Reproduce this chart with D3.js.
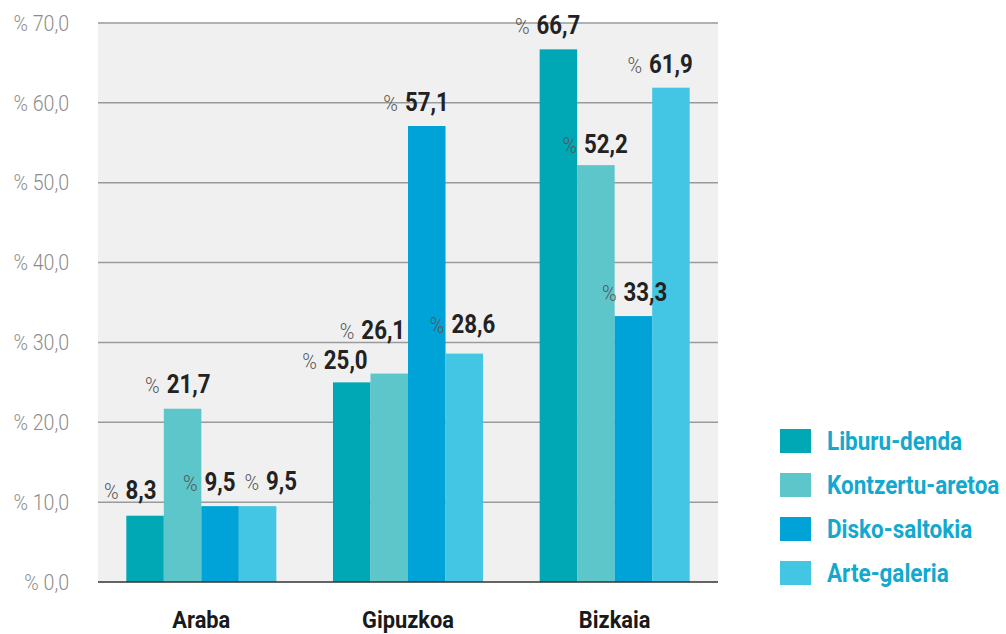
<!DOCTYPE html>
<html>
    <head>
        <meta charset="utf-8">
        <style>
            body { margin: 0; background: white; }
            svg { display: block; font-family: "Roboto", "Liberation Sans", sans-serif; }
            .plot_bg { fill: #f0f0f0; }
            .grid line { stroke: #9a9a9a; stroke-width: 1.5; }
            .baseline { stroke: #333; stroke-width: 1.5; }
            .tick_lbl { fill: #8c8c8c; font-size: 22px; font-weight: 300; }
            .pct { fill: #555; font-size: 22px; font-weight: 300; }
            .val { fill: #222; font-size: 25px; font-weight: bold; }
            .cat { fill: #1a1a1a; font-size: 24px; font-weight: bold; }
            .leg_txt { fill: #13a9cf; font-size: 25px; font-weight: bold; }
        </style>
    </head>
    <body>
        <div id="plateau"></div>
        <script src="https://cdn.jsdelivr.net/npm/d3@7"></script>
        <script>

//////////////////// donnees ////////////////////
let regions = ['Araba', 'Gipuzkoa', 'Bizkaia'];
let lekuak = ['Liburu-denda', 'Kontzertu-aretoa', 'Disko-saltokia', 'Arte-galeria'];
let liburu_denda = [8.3, 25.0, 66.7];
let kontzertu_aretoa = [21.7, 26.1, 52.2];
let disko_saltokia = [9.5, 57.1, 33.3];
let arte_galeria = [9.5, 28.6, 61.9];
let y_ticks = [0, 10, 20, 30, 40, 50, 60, 70];

let series = [liburu_denda, kontzertu_aretoa, disko_saltokia, arte_galeria];
let colors = ['#00a8b5', '#5cc6cb', '#00a3d7', '#43c5e4'];

// petits decalages des etiquettes (pour eviter les chevauchements)
let label_nudge = {
    'Araba|Liburu-denda': [-4, -2],
    'Araba|Kontzertu-aretoa': [6, -1],
    'Araba|Arte-galeria': [24, -1],
    'Gipuzkoa|Liburu-denda': [-6, 2],
    'Gipuzkoa|Kontzertu-aretoa': [-6, -20],
    'Gipuzkoa|Arte-galeria': [9, -6],
    'Bizkaia|Kontzertu-aretoa': [10, 3],
    'Bizkaia|Disko-saltokia': [12, 0],
};

//////////////////// dimensions ////////////////////
let W = 1006, H = 634;
let plot = { left: 98, right: 718, top: 23, bottom: 582 };
let SQUEEZE = 0.89; // police condensee

let svg = d3.select('#plateau').append('svg')
    .attr('width', W)
    .attr('height', H);

// texte place en (x, y) et compresse horizontalement
function placeText(sel, x, y, k) {
    return sel.attr('transform', `translate(${x}, ${y}) scale(${k}, 1)`);
}

let x0 = d3.scaleBand()
    .domain(regions)
    .range([plot.left, plot.right])
    .paddingInner(0.274)
    .paddingOuter(0.137);

let x1 = d3.scaleBand()
    .domain(lekuak)
    .range([0, x0.bandwidth()]);

let y = d3.scaleLinear()
    .domain([0, 70])
    .range([plot.bottom, plot.top]);

let color = d3.scaleOrdinal().domain(lekuak).range(colors);

// fond
svg.append('rect')
    .classed('plot_bg', true)
    .attr('x', plot.left)
    .attr('y', plot.top)
    .attr('width', plot.right - plot.left)
    .attr('height', plot.bottom - plot.top);

// grille
svg.append('g')
    .classed('grid', true)
    .selectAll('line')
    .data(y_ticks.filter(d => d > 0))
    .enter().append('line')
    .attr('x1', plot.left)
    .attr('x2', plot.right)
    .attr('y1', d => y(d))
    .attr('y2', d => y(d));

// etiquettes axe y
svg.append('g')
    .selectAll('text')
    .data(y_ticks)
    .enter().append('text')
    .classed('tick_lbl', true)
    .attr('dy', '0.35em')
    .attr('text-anchor', 'end')
    .each(function(d) { placeText(d3.select(this), 69, y(d), SQUEEZE); })
    .text(d => '% ' + d.toFixed(1).replace('.', ','));

// barres
let rows = [];
regions.forEach((r, i) => {
    lekuak.forEach((l, j) => {
        rows.push({ region: r, lekua: l, value: series[j][i] });
    });
});

svg.append('g')
    .selectAll('rect')
    .data(rows)
    .enter().append('rect')
    .attr('x', d => x0(d.region) + x1(d.lekua))
    .attr('y', d => y(d.value))
    .attr('width', x1.bandwidth())
    .attr('height', d => y(0) - y(d.value))
    .attr('fill', d => color(d.lekua));

// ligne de base
svg.append('line')
    .classed('baseline', true)
    .attr('x1', plot.left)
    .attr('x2', plot.right)
    .attr('y1', y(0))
    .attr('y2', y(0));

// etiquettes des valeurs
let lbls = svg.append('g');
rows.forEach(d => {
    let nudge = label_nudge[d.region + '|' + d.lekua] || [0, 0];
    let cx = x0(d.region) + x1(d.lekua) + x1.bandwidth() / 2 + nudge[0];
    let by = y(d.value) - 15 + nudge[1];
    let num = lbls.append('text')
        .classed('val', true)
        .attr('text-anchor', 'middle')
        .text(d.value.toFixed(1).replace('.', ','));
    placeText(num, cx, by, SQUEEZE);
    let w = num.node().getComputedTextLength() * SQUEEZE;
    let pct = lbls.append('text')
        .classed('pct', true)
        .attr('text-anchor', 'end')
        .text('%');
    placeText(pct, cx - w / 2 - 7, by, 0.9);
});

// categories
svg.append('g')
    .selectAll('text')
    .data(regions)
    .enter().append('text')
    .classed('cat', true)
    .attr('text-anchor', 'middle')
    .each(function(d) { placeText(d3.select(this), x0(d) + x0.bandwidth() / 2, 628, 0.91); })
    .text(d => d);

// legende
let leg = svg.append('g')
    .attr('transform', 'translate(780, 429)');
lekuak.forEach((l, i) => {
    let g = leg.append('g').attr('transform', `translate(0, ${i * 44})`);
    g.append('rect')
        .attr('width', 31)
        .attr('height', 24)
        .attr('fill', color(l));
    let t = g.append('text')
        .classed('leg_txt', true)
        .attr('dy', '0.36em')
        .text(l);
    placeText(t, 47, 12, 0.9);
});

        </script>
    </body>
</html>
